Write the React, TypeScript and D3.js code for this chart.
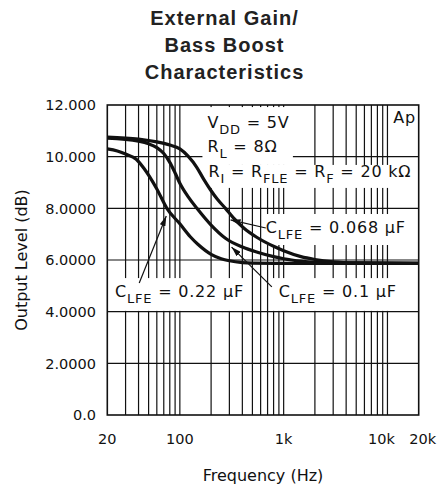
import React from "react";
import * as d3 from "d3";

const W = 446;
const H = 491;

const titleLines = ["External Gain/", "Bass Boost", "Characteristics"];
const yTickValues = [0, 2, 4, 6, 8, 10, 12];
const yTickLabels = ["0.0", "2.0000", "4.0000", "6.0000", "8.0000", "10.000", "12.000"];
const xTickValues = [20, 100, 1000, 10000, 20000];
const xTickLabels = ["20", "100", "1k", "10k", "20k"];
const xTickShift = [0, 0, 0, -6, 4];
const xTitle = "Frequency (Hz)";
const yTitle = "Output Level (dB)";

// curve C_LFE = 0.22 uF
const f022 = [20, 25, 30, 38, 45, 60, 75, 100, 126, 150, 200, 250, 300, 400, 500, 1000, 20000];
const v022 = [10.3, 10.22, 10.1, 9.9, 9.55, 8.75, 8.0, 7.4, 6.9, 6.6, 6.22, 6.05, 5.97, 5.9, 5.88, 5.87, 5.87];
// curve C_LFE = 0.1 uF
const f01 = [20, 40, 50, 60, 70, 80, 90, 100, 120, 146, 200, 275, 400, 559, 800, 1000, 1500, 2000, 20000];
const v01 = [10.72, 10.6, 10.5, 10.35, 10.12, 9.78, 9.37, 8.97, 8.45, 8.0, 7.35, 6.84, 6.5, 6.3, 6.13, 6.05, 5.95, 5.9, 5.87];
// curve C_LFE = 0.068 uF
const f0068 = [20, 40, 60, 80, 100, 120, 146, 170, 197, 230, 275, 330, 415, 550, 809, 1000, 1468, 2000, 3000, 5000, 20000];
const v0068 = [10.76, 10.68, 10.57, 10.45, 10.3, 10.02, 9.58, 9.12, 8.72, 8.35, 8.0, 7.62, 7.23, 6.88, 6.52, 6.36, 6.13, 6.02, 5.93, 5.89, 5.87];

type Part = { t: string; sub?: boolean };

const labelVdd: Part[] = [{ t: "V" }, { t: "DD", sub: true }, { t: " = 5V" }];
const labelRl: Part[] = [{ t: "R" }, { t: "L", sub: true }, { t: " = 8Ω" }];
const labelRi: Part[] = [
  { t: "R" }, { t: "I", sub: true }, { t: " = R" }, { t: "FLE", sub: true },
  { t: " = R" }, { t: "F", sub: true }, { t: " = 20 kΩ" },
];
const label0068: Part[] = [{ t: "C" }, { t: "LFE", sub: true }, { t: " = 0.068 µF" }];
const label022: Part[] = [{ t: "C" }, { t: "LFE", sub: true }, { t: " = 0.22 µF" }];
const label01: Part[] = [{ t: "C" }, { t: "LFE", sub: true }, { t: " = 0.1 µF" }];

export default function App() {
  const x = d3.scaleLog().domain([20, 20000]).range([107.3, 418.7]);
  const y = d3.scaleLinear().domain([0, 12]).range([415, 105]);

  const gridF = x.ticks().filter((f) => f > 20 && f < 20000);
  const gridV = yTickValues.filter((v) => v > 0 && v < 12);

  const line = d3
    .line<[number, number]>()
    .x((d) => x(d[0]))
    .y((d) => y(d[1]))
    .curve(d3.curveMonotoneX);

  const series = [
    { f: f022, v: v022 },
    { f: f01, v: v01 },
    { f: f0068, v: v0068 },
  ];

  const masks: [number, number, number, number][] = [
    [165, 1228, 11.92, 9.68],
    [165, 19800, 9.68, 8.79],
    [629, 19800, 7.78, 6.58],
    [20.3, 460, 5.3, 4.03],
    [752, 19800, 5.3, 4.03],
  ];

  const arrows: [number, number, number, number][] = [
    [673, 7.24, 308, 7.55],
    [40.6, 5.11, 74, 7.7],
    [769, 4.96, 315, 6.5],
  ];

  const labels: { parts: Part[]; f: number; v: number }[] = [
    { parts: labelVdd, f: 184.6, v: 11.11 },
    { parts: labelRl, f: 184.6, v: 10.2 },
    { parts: labelRi, f: 188.7, v: 9.21 },
    { parts: label0068, f: 673, v: 7.03 },
    { parts: label022, f: 23.7, v: 4.58 },
    { parts: label01, f: 897, v: 4.58 },
  ];

  const font = "'DejaVu Sans', sans-serif";

  const renderLabel = (parts: Part[], px: number, py: number, key: number) => {
    let cur = 0;
    return (
      <text key={key} x={px} y={py} fontFamily={font} fontSize={16} letterSpacing={0.8} fill="#111" style={{ whiteSpace: "pre" }}>
        {parts.map((p, i) => {
          const target = p.sub ? 6 : 0;
          const dy = target - cur;
          cur = target;
          return (
            <tspan key={i} dy={dy} fontSize={p.sub ? 13 : 16}>
              {p.t}
            </tspan>
          );
        })}
      </text>
    );
  };

  return (
    <svg width={W} height={H} style={{ position: "absolute", left: 0, top: 0, background: "#fff" }}>
      <defs>
        <marker id="ah" viewBox="0 0 10 6" refX="10" refY="3" markerWidth="10" markerHeight="6" markerUnits="userSpaceOnUse" orient="auto">
          <path d="M0,0 L10,3 L0,6 Z" fill="#111" />
        </marker>
      </defs>
      {titleLines.map((t, i) => (
        <text key={i} x={224.5} y={24.5 + i * 27.3} textAnchor="middle" fontFamily="'Liberation Sans', Arial, sans-serif" fontWeight="bold" fontSize={20} letterSpacing={1} fill="#222">
          {t}
        </text>
      ))}
      {gridF.map((f, i) => (
        <line key={"gx" + i} x1={x(f)} x2={x(f)} y1={y(0)} y2={y(12)} stroke="#111" strokeWidth={1.2} />
      ))}
      {gridV.map((v, i) => (
        <line key={"gy" + i} x1={x(20)} x2={x(20000)} y1={y(v)} y2={y(v)} stroke="#111" strokeWidth={1.2} />
      ))}
      {masks.map((m, i) => (
        <rect key={"m" + i} x={x(m[0])} y={y(m[2])} width={x(m[1]) - x(m[0])} height={y(m[3]) - y(m[2])} fill="#fff" />
      ))}
      <rect x={x(20)} y={y(12)} width={x(20000) - x(20)} height={y(0) - y(12)} fill="none" stroke="#111" strokeWidth={1.6} />
      {series.map((s, i) => (
        <path key={"c" + i} d={line(s.f.map((f, j) => [f, s.v[j]] as [number, number])) || ""} fill="none" stroke="#111" strokeWidth={3.2} strokeLinejoin="round" />
      ))}
      {arrows.map((a, i) => (
        <line key={"a" + i} x1={x(a[0])} y1={y(a[1])} x2={x(a[2])} y2={y(a[3])} stroke="#111" strokeWidth={1.2} markerEnd="url(#ah)" />
      ))}
      {labels.map((l, i) => renderLabel(l.parts, x(l.f), y(l.v), i))}
      <text x={x(11400)} y={y(11.29)} fontFamily={font} fontSize={16} letterSpacing={0.8} fill="#111">Ap</text>
      {yTickValues.map((v, i) => (
        <text key={"yt" + i} x={96} y={y(v)} dy="0.36em" textAnchor="end" fontFamily={font} fontSize={14.5} fill="#111">
          {yTickLabels[i]}
        </text>
      ))}
      {xTickValues.map((f, i) => (
        <text key={"xt" + i} x={x(f) + xTickShift[i]} y={444} textAnchor="middle" fontFamily={font} fontSize={14.5} fill="#111">
          {xTickLabels[i]}
        </text>
      ))}
      <text x={263} y={481} textAnchor="middle" fontFamily={font} fontSize={16} fill="#111">{xTitle}</text>
      <text transform="translate(27,260) rotate(-90)" textAnchor="middle" fontFamily={font} fontSize={16} fill="#111">{yTitle}</text>
    </svg>
  );
}
